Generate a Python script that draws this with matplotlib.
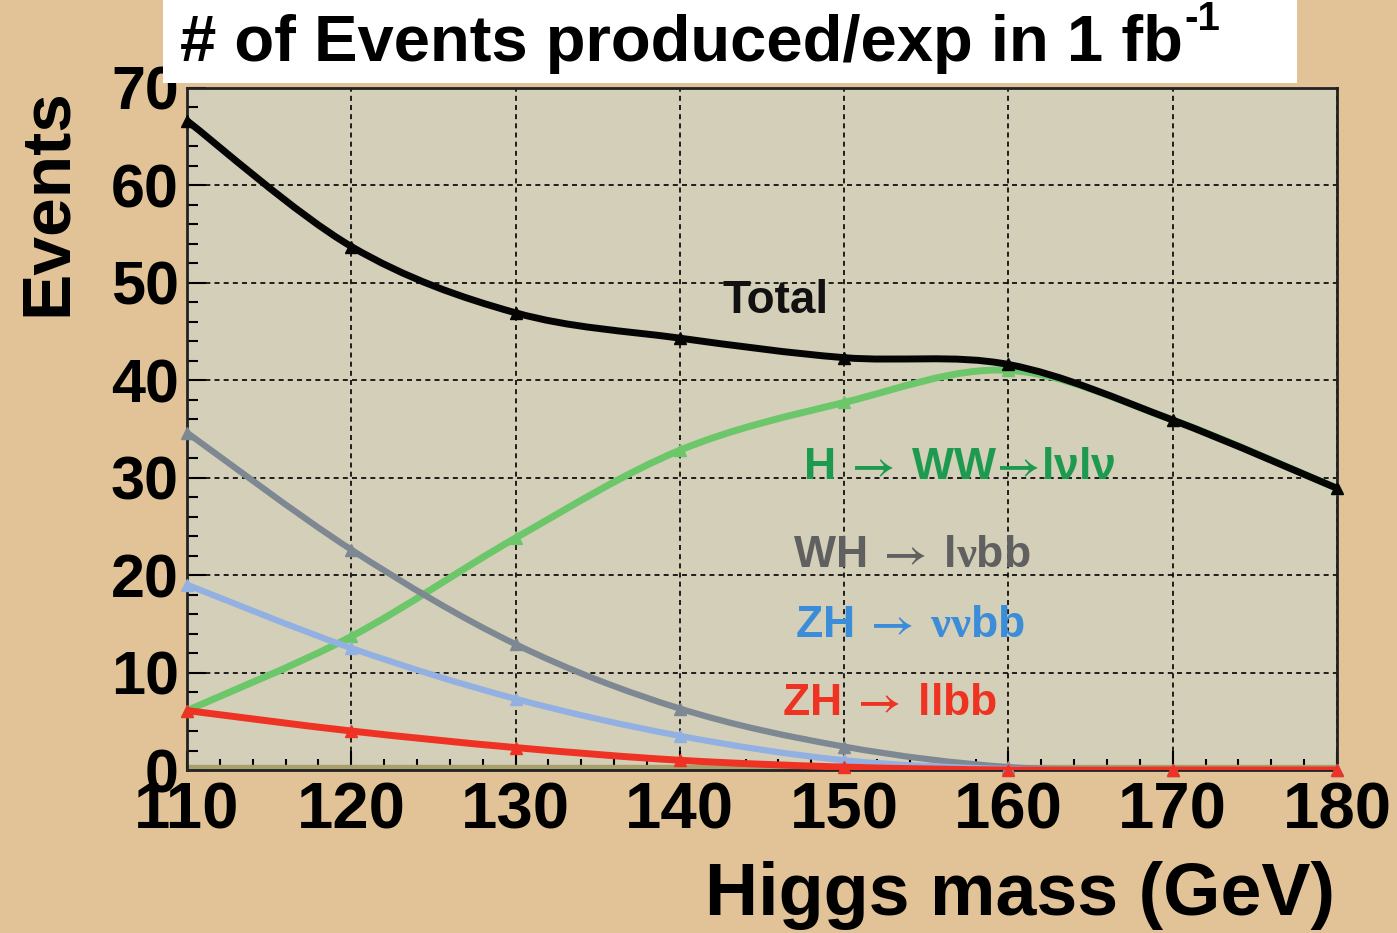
import numpy as np
import matplotlib.pyplot as plt
from matplotlib.path import Path
from matplotlib.patches import PathPatch, Rectangle
from matplotlib.ticker import MultipleLocator

plt.rcParams['font.family'] = ['Liberation Sans', 'DejaVu Sans']
plt.rcParams['font.weight'] = 'bold'
plt.rcParams['mathtext.fontset'] = 'custom'
plt.rcParams['mathtext.rm'] = 'Liberation Serif'
plt.rcParams['mathtext.sf'] = 'STIXGeneral'
plt.rcParams['mathtext.bf'] = 'Liberation Sans:bold'
plt.rcParams['mathtext.it'] = 'Liberation Serif:italic'

# values
mass = [110, 120, 130, 140, 150, 160, 170, 180]
total = [66.6, 53.7, 46.9, 44.3, 42.3, 41.6, 35.9, 28.9]
h_ww = [6.1, 13.7, 23.8, 32.8, 37.7, 41.0, 35.9, 28.9]
wh_lvbb = [34.6, 22.6, 12.9, 6.3, 2.4, 0.3, 0.0, 0.0]
zh_vvbb = [19.0, 12.5, 7.3, 3.5, 1.0, 0.1, 0.0, 0.0]
zh_llbb = [6.1, 4.0, 2.3, 1.0, 0.3, 0.0, 0.0, 0.0]


def smooth_path(x, y):
    # cubic bezier through the points (like ROOT's "C" draw option)
    p = np.column_stack([x, y]).astype(float)
    n = len(p)
    verts = [p[0]]
    codes = [Path.MOVETO]
    for i in range(n - 1):
        p0 = p[max(i - 1, 0)]
        p3 = p[min(i + 2, n - 1)]
        verts += [p[i] + (p[i + 1] - p0) / 6, p[i + 1] - (p3 - p[i]) / 6, p[i + 1]]
        codes += [Path.CURVE4] * 3
    return Path(verts, codes)


fig = plt.figure(figsize=(13.97, 9.33), dpi=100, facecolor='#E2C397')
ax = fig.add_axes([0.1339, 0.1747, 0.8231, 0.7314])
ax.set_facecolor('#D4CFB8')

series = [
    (h_ww, '#6CC66A', 5),
    (wh_lvbb, '#7D8892', 4.5),
    (zh_vvbb, '#93B0E2', 4.5),
    (zh_llbb, '#EE3324', 5),
    (total, '#050505', 5),
]
for k, (vals, col, lw) in enumerate(series):
    ax.add_patch(PathPatch(smooth_path(mass, vals), fill=False, edgecolor=col,
                           lw=lw, capstyle='round', joinstyle='round', zorder=3 + k))
    ax.plot(mass, vals, '^', color=col, ms=9, zorder=3 + k, clip_on=False)

ax.axhspan(0, 0.5, color='#A89F6C', zorder=1)

ax.set_xlim(110, 180)
ax.set_ylim(0, 70)
ax.xaxis.set_major_locator(MultipleLocator(10))
ax.xaxis.set_minor_locator(MultipleLocator(2))
ax.yaxis.set_major_locator(MultipleLocator(10))
ax.yaxis.set_minor_locator(MultipleLocator(2))
ax.grid(True, which='major', color='black', lw=1.2, linestyle=(0, (3, 2.5)), zorder=2)
ax.set_axisbelow(True)
ax.tick_params(which='both', direction='in', color='black', width=1.5)
ax.tick_params(which='major', length=14)
ax.tick_params(which='minor', length=8)
ax.tick_params(axis='x', labelsize=47, pad=8)
ax.tick_params(axis='y', labelsize=44, pad=6)
for lab in ax.get_xticklabels() + ax.get_yticklabels():
    lab.set_fontweight('bold')
for s in ax.spines.values():
    s.set_linewidth(2)
    s.set_color('#222222')

# curve labels
arr = r'\mathsf{\rightarrow}'
ax.text(142.6, 46.9, 'Total', fontsize=33, fontweight='bold', color='#111111', zorder=10)
ax.text(147.5, 29.9, r'$\mathbf{H}\;' + arr + r'\;\mathbf{WW}\!' + arr + r'\!\mathbf{l\nu l\nu}$',
        fontsize=32, color='#1E9A50', zorder=10)
ax.text(146.9, 20.8, r'$\mathbf{WH}\;' + arr + r'\;\mathbf{l}\mathrm{\nu}\mathbf{bb}$',
        fontsize=32, color='#606060', zorder=10)
ax.text(147.0, 13.6, r'$\mathbf{ZH}\;' + arr + r'\;\mathrm{\nu\nu}\mathbf{bb}$',
        fontsize=32, color='#3C8DD9', zorder=10)
ax.text(146.2, 5.6, r'$\mathbf{ZH}\;' + arr + r'\;\mathbf{llbb}$',
        fontsize=32, color='#EE3322', zorder=10)

fig.text(0.73, 0.04, 'Higgs mass (GeV)', fontsize=53, fontweight='bold', ha='center', va='center')
fig.text(0.034, 0.783, 'Events', fontsize=50, fontweight='bold', rotation=90, ha='center', va='center')

# white title box
fig.patches.append(Rectangle((0.1167, 0.911), 0.8117, 0.089, transform=fig.transFigure,
                             facecolor='white', edgecolor='none', zorder=20))
title = fig.text(0.129, 0.935, '# of Events produced/exp in 1 fb', fontsize=47,
                 fontweight='bold', ha='left', va='baseline', zorder=21)
bb = title.get_window_extent(fig.canvas.get_renderer())
x_end = bb.x1 / fig.bbox.width
fig.text(x_end + 0.001, 0.968, '-1', fontsize=29, fontweight='bold',
         ha='left', va='baseline', zorder=21)

fig.savefig('out.png', dpi=100, facecolor=fig.get_facecolor())
